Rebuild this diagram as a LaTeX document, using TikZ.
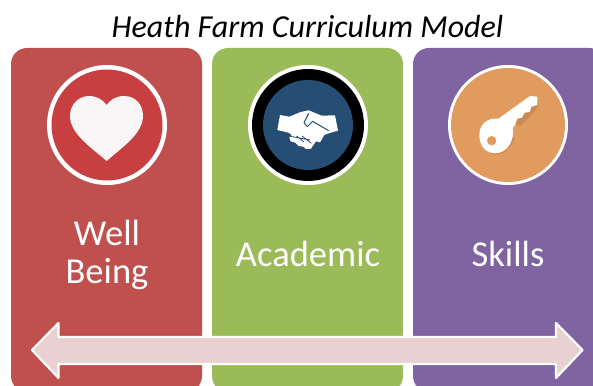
\documentclass[tikz,border=0pt]{standalone}
\usepackage{fontspec}
\setmainfont{Carlito}
\definecolor{redbox}{HTML}{C0504D}
\definecolor{greenbox}{HTML}{9BBB59}
\definecolor{purplebox}{HTML}{8064A2}
\definecolor{redc}{HTML}{C83F42}
\definecolor{bluec}{HTML}{264E74}
\definecolor{orangec}{HTML}{E29B5F}
\definecolor{pinkarrow}{HTML}{E8D1D0}
\definecolor{heartc}{HTML}{F7F5F5}
\tikzset{
  panel/.style={rounded corners=16pt},
  ring/.style={fill=white},
  lbl/.style={text=white,font=\fontsize{36.5}{36.5}\selectfont,inner sep=0pt,anchor=center}
}
\begin{document}
\begin{tikzpicture}[x=1pt,y=-1pt]
\useasboundingbox (0,0) rectangle (593,385);
\clip (0,0) rectangle (593,385);
\fill[white] (0,0) rectangle (593,385);
\node[inner sep=0pt,anchor=center,font=\fontsize{32}{32}\selectfont\itshape] (title) at (307.5,27) {Heath Farm Curriculum Model};
% panels
\fill[panel,redbox] (11,48) rectangle (202,392);
\fill[panel,greenbox] (212,48) rectangle (403,392);
\fill[panel,purplebox] (413,48) rectangle (605,392);
% discs
\fill[ring] (107,125) circle (60);
\fill[redc] (107,125) circle (55.5);
\fill[ring] (308,125) circle (60);
\fill[black] (308,125) circle (56);
\fill[bluec] (308,125) circle (45);
\fill[ring] (508,125) circle (60);
\fill[orangec] (508,125) circle (57);
% heart
\fill[heartc] (106.7,161)
  .. controls (92,148) and (70,134) .. (70,116)
  .. controls (70,104) and (79,96) .. (89,96)
  .. controls (97,96) and (103,100) .. (106.7,105)
  .. controls (110,100) and (116,96) .. (124,96)
  .. controls (135,96) and (143,104) .. (143,116)
  .. controls (143,134) and (121,148) .. (106.7,161) -- cycle;
% handshake
\begin{scope}[shift={(230,80)},x=0.3333pt,y=-0.3333pt]
  \fill[white] (150,105) -- (178,110) -- (212,96) -- (236,91) -- (275,107) -- (315,106) -- (324,152) -- (296,160)
     -- (283,165) -- (270,187) -- (258,184) -- (242,207) -- (228,207) -- (220,200) -- (206,198) -- (196,188) -- (182,184) -- (178,172) -- (186,165) -- (175,158) -- (142,150) -- cycle;
  \draw[bluec,line width=1pt,line join=round] (236,100) -- (222,128) -- (232,140) -- (248,124) -- (296,152);
  \draw[bluec,line width=0.8pt] (176,168) -- (240,180) (200,168) -- (222,186) (216,168) -- (244,190);
\end{scope}
% key
\begin{scope}[shift={(430,70)},x=0.3333pt,y=-0.3333pt]
  \fill[black!30!orangec,opacity=.35] (155,215) .. controls (170,266) and (225,272) .. (255,205) -- cycle;
  \fill[black!30!orangec,opacity=.35] (255,160) -- (324,92) -- (324,112) -- (270,170) -- cycle;
  \path[fill=white] (148,195) .. controls (148,165) and (170,142) .. (205,146)
     -- (218,137) -- (300,78) -- (322,80) -- (322,105) -- (304,110) -- (300,125) -- (284,128) -- (276,143) -- (262,145) -- (255,165) -- (248,174)
     .. controls (254,205) and (236,250) .. (195,250)
     .. controls (165,250) and (148,225) .. (148,195) -- cycle;
  \fill[orangec] (185,212) circle (14);
\end{scope}
% labels
\node[lbl] (well) at (107,233) {Well};
\node[lbl] (being) at (107,274) {Being};
\node[lbl] (academic) at (308,254) {Academic};
\node[lbl] (skills) at (508,254) {Skills};
% double arrow
\draw[white,line width=2.2pt,fill=pinkarrow,line join=round]
  (32,350) -- (58.5,323) -- (58.5,337) -- (556,337) -- (556,323) -- (582.5,350)
  -- (556,378) -- (556,364) -- (58.5,364) -- (58.5,378) -- cycle;
\end{tikzpicture}
\end{document}
